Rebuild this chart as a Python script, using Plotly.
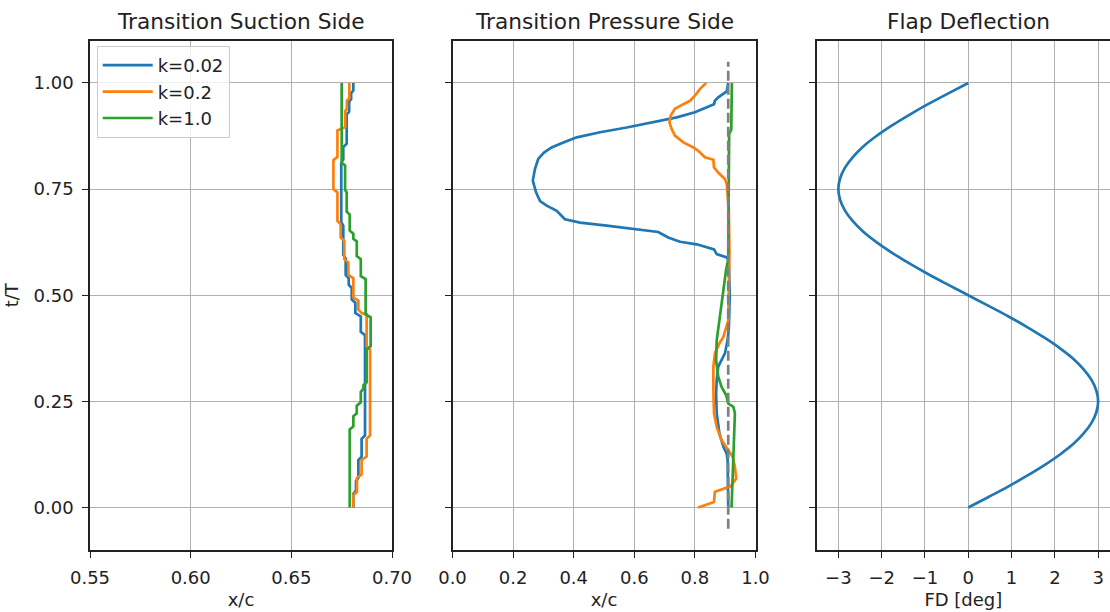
import plotly.graph_objects as go

# ---------------- data ----------------
series_names = ["k=0.02", "k=0.2", "k=1.0"]
series_colors = ["#1f77b4", "#ff7f0e", "#2ca02c"]

# Transition suction side (x/c vs t/T)
ss_t_k002 = [1.000, 0.982, 0.976, 0.962, 0.956, 0.932, 0.926, 0.857, 0.849, 0.820, 0.812, 0.672, 0.664,
             0.595, 0.587, 0.548, 0.540, 0.525, 0.517, 0.490, 0.482, 0.458, 0.450, 0.414, 0.406, 0.170,
             0.162, 0.120, 0.112, 0.070, 0.062, 0.040, 0.032, 0.000]
ss_x_k002 = [0.6808, 0.6808, 0.6797, 0.6797, 0.6787, 0.6787, 0.6775, 0.6775, 0.6758, 0.6758, 0.6748, 0.6748, 0.6758,
             0.6758, 0.6770, 0.6770, 0.6785, 0.6785, 0.6800, 0.6800, 0.6818, 0.6818, 0.6845, 0.6845, 0.6866, 0.6866,
             0.6849, 0.6849, 0.6833, 0.6833, 0.6821, 0.6821, 0.6808, 0.6808]

ss_t_k02 = [1.000, 0.964, 0.958, 0.940, 0.934, 0.896, 0.888, 0.826, 0.818, 0.750, 0.742, 0.675, 0.667,
            0.636, 0.628, 0.585, 0.577, 0.548, 0.540, 0.495, 0.487, 0.466, 0.458, 0.455, 0.380, 0.372,
            0.170, 0.162, 0.120, 0.112, 0.078, 0.070, 0.037, 0.029, 0.000]
ss_x_k02 = [0.6788, 0.6788, 0.6776, 0.6776, 0.6768, 0.6768, 0.6729, 0.6729, 0.6709, 0.6709, 0.6729, 0.6729, 0.6745,
            0.6745, 0.6763, 0.6763, 0.6783, 0.6783, 0.6808, 0.6808, 0.6833, 0.6833, 0.6849, 0.6874, 0.6874, 0.6891,
            0.6891, 0.6874, 0.6874, 0.6849, 0.6849, 0.6826, 0.6826, 0.6808, 0.6808]

ss_t_k10 = [1.000, 0.812, 0.806, 0.748, 0.742, 0.697, 0.690, 0.652, 0.645, 0.633, 0.627, 0.592, 0.585,
            0.545, 0.538, 0.455, 0.448, 0.380, 0.372, 0.295, 0.288, 0.280, 0.272, 0.248, 0.240, 0.222,
            0.215, 0.191, 0.184, 0.000]
ss_x_k10 = [0.6750, 0.6750, 0.6767, 0.6767, 0.6775, 0.6775, 0.6790, 0.6790, 0.6808, 0.6808, 0.6825, 0.6825, 0.6845,
            0.6845, 0.6869, 0.6869, 0.6894, 0.6894, 0.6874, 0.6874, 0.6858, 0.6858, 0.6845, 0.6845, 0.6825, 0.6825,
            0.6808, 0.6808, 0.6790, 0.6790]

# Transition pressure side
ps_t_k002 = [1.000, 0.980, 0.966, 0.958, 0.950, 0.943, 0.931, 0.919, 0.907, 0.895, 0.884, 0.872, 0.860,
             0.848, 0.836, 0.821, 0.797, 0.770, 0.742, 0.722, 0.711, 0.699, 0.679, 0.671, 0.664, 0.656,
             0.649, 0.636, 0.626, 0.620, 0.612, 0.608, 0.597, 0.589, 0.580, 0.500, 0.420, 0.395, 0.363,
             0.347, 0.332, 0.300, 0.269, 0.222, 0.174, 0.143, 0.127, 0.111, 0.000]
ps_x_k002 = [0.910, 0.905, 0.877, 0.866, 0.863, 0.839, 0.800, 0.740, 0.663, 0.575, 0.487, 0.410, 0.366,
             0.327, 0.302, 0.283, 0.272, 0.265, 0.276, 0.289, 0.311, 0.344, 0.371, 0.421, 0.509, 0.608,
             0.679, 0.712, 0.751, 0.806, 0.839, 0.863, 0.872, 0.905, 0.912, 0.915, 0.912, 0.908, 0.899,
             0.888, 0.877, 0.872, 0.870, 0.872, 0.881, 0.894, 0.905, 0.908, 0.910]

ps_t_k02 = [1.000, 0.986, 0.970, 0.958, 0.950, 0.939, 0.923, 0.907, 0.892, 0.876, 0.860, 0.848, 0.840,
            0.825, 0.819, 0.801, 0.789, 0.774, 0.762, 0.700, 0.600, 0.500, 0.440, 0.402, 0.387, 0.363,
            0.332, 0.277, 0.222, 0.190, 0.159, 0.135, 0.119, 0.096, 0.068, 0.050, 0.037, 0.013, 0.000]
ps_x_k02 = [0.837, 0.817, 0.800, 0.784, 0.762, 0.734, 0.720, 0.716, 0.723, 0.734, 0.762, 0.795, 0.811,
            0.833, 0.861, 0.863, 0.877, 0.899, 0.905, 0.912, 0.914, 0.913, 0.910, 0.894, 0.881, 0.866,
            0.861, 0.861, 0.863, 0.872, 0.888, 0.910, 0.925, 0.932, 0.936, 0.918, 0.866, 0.863, 0.811]

ps_t_k10 = [1.000, 0.890, 0.880, 0.700, 0.600, 0.585, 0.560, 0.512, 0.450, 0.394, 0.347, 0.308, 0.284,
            0.265, 0.245, 0.237, 0.222, 0.100, 0.000]
ps_x_k10 = [0.922, 0.920, 0.913, 0.912, 0.911, 0.910, 0.903, 0.894, 0.881, 0.872, 0.870, 0.877, 0.888,
            0.903, 0.910, 0.927, 0.932, 0.927, 0.921]

# reference line (pressure side)
ref_x = [0.91, 0.91]
ref_t = [-0.05, 1.05]

# Flap deflection
fd_t = [0.000, 0.025, 0.050, 0.075, 0.100, 0.125, 0.150, 0.175, 0.200, 0.225, 0.250,
        0.275, 0.300, 0.325, 0.350, 0.375, 0.400, 0.425, 0.450, 0.475, 0.500,
        0.525, 0.550, 0.575, 0.600, 0.625, 0.650, 0.675, 0.700, 0.725, 0.750,
        0.775, 0.800, 0.825, 0.850, 0.875, 0.900, 0.925, 0.950, 0.975, 1.000]
fd_deg = [0.00, 0.47, 0.93, 1.36, 1.76, 2.12, 2.43, 2.67, 2.85, 2.96, 3.00,
          2.96, 2.85, 2.67, 2.43, 2.12, 1.76, 1.36, 0.93, 0.47, 0.00,
          -0.47, -0.93, -1.36, -1.76, -2.12, -2.43, -2.67, -2.85, -2.96, -3.00,
          -2.96, -2.85, -2.67, -2.43, -2.12, -1.76, -1.36, -0.93, -0.47, 0.00]

# ticks
y_tickvals = [0.0, 0.25, 0.5, 0.75, 1.0]
y_ticktext = ["0.00", "0.25", "0.50", "0.75", "1.00"]
x1_tickvals = [0.55, 0.60, 0.65, 0.70]
x1_ticktext = ["0.55", "0.60", "0.65", "0.70"]
x2_tickvals = [0.0, 0.2, 0.4, 0.6, 0.8, 1.0]
x2_ticktext = ["0.0", "0.2", "0.4", "0.6", "0.8", "1.0"]
x3_tickvals = [-3, -2, -1, 0, 1, 2, 3]
x3_ticktext = ["\u22123", "\u22122", "\u22121", "0", "1", "2", "3"]

titles = ["Transition Suction Side", "Transition Pressure Side", "Flap Deflection"]

# ---------------- figure ----------------
W, H = 1110, 612
FONT = "DejaVu Sans"
LW = 2.7

fig = go.Figure()

ss = [(ss_x_k002, ss_t_k002), (ss_x_k02, ss_t_k02), (ss_x_k10, ss_t_k10)]
ps = [(ps_x_k002, ps_t_k002), (ps_x_k02, ps_t_k02), (ps_x_k10, ps_t_k10)]

for i, (x, t) in enumerate(ss):
    fig.add_trace(go.Scatter(x=x, y=t, mode="lines", name=series_names[i],
                             line=dict(color=series_colors[i], width=LW),
                             legendgroup=series_names[i], showlegend=True,
                             xaxis="x", yaxis="y"))
for i, (x, t) in enumerate(ps):
    fig.add_trace(go.Scatter(x=x, y=t, mode="lines", name=series_names[i],
                             line=dict(color=series_colors[i], width=LW),
                             legendgroup=series_names[i], showlegend=False,
                             xaxis="x2", yaxis="y2"))
fig.add_trace(go.Scatter(x=ref_x, y=ref_t, mode="lines", showlegend=False,
                         line=dict(color="#808080", width=LW, dash="10px,4px"),
                         xaxis="x2", yaxis="y2"))
fig.add_trace(go.Scatter(x=fd_deg, y=fd_t, mode="lines", showlegend=False,
                         line=dict(color="#1f77b4", width=LW, shape="spline"),
                         xaxis="x3", yaxis="y3"))

top_px, bot_px = 40.5, 550.0
ydom = [(H - bot_px) / H, (H - top_px) / H]
xdoms = [[90 / W, 392 / W], [452.5 / W, 755.5 / W], [816.7 / W, 1.0]]
x3_right = -3.5 + (W - 816.7) / 43.3

axis_common = dict(showgrid=True, gridcolor="#b0b0b0", gridwidth=1.4,
                   showline=True, linecolor="#222222", linewidth=1.5,
                   ticks="outside", ticklen=6, tickwidth=1.4, tickcolor="#222222",
                   tickfont=dict(family=FONT, size=18, color="#222222"),
                   zeroline=False, automargin=False, ticklabelstandoff=5)

title_font = dict(family=FONT, size=18, color="#222222")

fig.update_layout(
    width=W, height=H, autosize=False,
    margin=dict(l=0, r=0, t=0, b=0),
    paper_bgcolor="white", plot_bgcolor="white",
    font=dict(family=FONT, size=18, color="#222222"),
    xaxis=dict(domain=xdoms[0], range=[0.55, 0.70], tickvals=x1_tickvals, ticktext=x1_ticktext,
               mirror=True, anchor="y", title=dict(text="x/c", font=title_font, standoff=6), **axis_common),
    xaxis2=dict(domain=xdoms[1], range=[0.0, 1.0], tickvals=x2_tickvals, ticktext=x2_ticktext,
                mirror=True, anchor="y2", title=dict(text="x/c", font=title_font, standoff=6), **axis_common),
    xaxis3=dict(domain=xdoms[2], range=[-3.5, x3_right], tickvals=x3_tickvals, ticktext=x3_ticktext,
                mirror=True, anchor="y3", title=dict(text="FD [deg]", font=title_font, standoff=6), **axis_common),
    yaxis=dict(domain=ydom, range=[-0.1, 1.1], tickvals=y_tickvals, ticktext=y_ticktext,
               mirror=True, anchor="x", title=dict(text="t/T", font=title_font, standoff=10), **axis_common),
    yaxis2=dict(domain=ydom, range=[-0.1, 1.1], tickvals=y_tickvals, showticklabels=False,
                mirror=True, anchor="x2", **axis_common),
    yaxis3=dict(domain=ydom, range=[-0.1, 1.1], tickvals=y_tickvals, showticklabels=False,
                mirror=False, anchor="x3", **axis_common),
    legend=dict(x=96.7 / W, y=(H - 46) / H, xanchor="left", yanchor="top",
                bgcolor="rgba(255,255,255,0.8)", bordercolor="#cccccc", borderwidth=1,
                font=dict(family=FONT, size=18, color="#222222"), tracegroupgap=0,
                itemwidth=50),
    showlegend=True,
)

centers = [(xdoms[0][0] + xdoms[0][1]) / 2, (xdoms[1][0] + xdoms[1][1]) / 2, (816.7 + 303 / 2) / W]
for c, t in zip(centers, titles):
    fig.add_annotation(text=t, x=c, y=ydom[1], xref="paper", yref="paper",
                       xanchor="center", yanchor="bottom", yshift=4, showarrow=False,
                       font=dict(family=FONT, size=21.7, color="#222222"))

fig.write_html("out.html")
